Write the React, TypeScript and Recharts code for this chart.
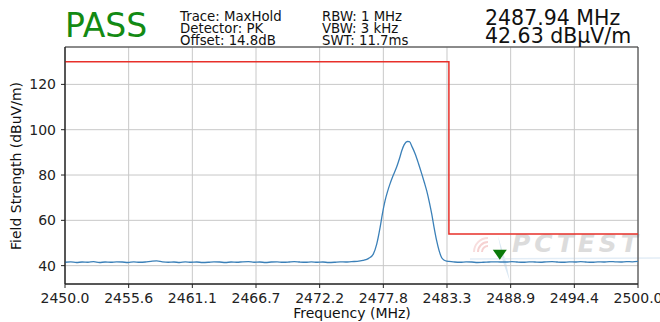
import React from "react";
import { LineChart, Line, XAxis, YAxis, CartesianGrid, ReferenceArea, ReferenceDot } from "recharts";

const leftFreqs = [
  2450.0, 2450.5, 2451.0, 2451.5, 2452.0, 2452.5, 2453.0, 2453.5, 2454.0, 2454.5,
  2455.0, 2455.5, 2456.0, 2456.5, 2457.0, 2457.5, 2458.0, 2458.5, 2459.0, 2459.5,
  2460.0, 2460.5, 2461.0, 2461.5, 2462.0, 2462.5, 2463.0, 2463.5, 2464.0, 2464.5,
  2465.0, 2465.5, 2466.0, 2466.5, 2467.0, 2467.5, 2468.0, 2468.5, 2469.0, 2469.5,
  2470.0, 2470.5, 2471.0, 2471.5, 2472.0, 2472.5, 2473.0, 2473.5, 2474.0, 2474.5,
  2475.0, 2475.5,
];
const leftLevels = [
  41.5, 41.7, 41.4, 41.6, 41.5, 41.8, 41.4, 41.6, 41.5, 41.7,
  41.6, 41.4, 41.7, 41.5, 41.6, 41.9, 42.1, 41.7, 41.5, 41.6,
  41.4, 41.7, 41.5, 41.6, 41.4, 41.5, 41.7, 41.6, 41.4, 41.6,
  41.5, 41.7, 41.8, 41.5, 41.6, 41.4, 41.6, 41.7, 41.5, 41.6,
  41.8, 41.6, 41.5, 41.7, 41.5, 41.6, 41.4, 41.5, 41.7, 41.6,
  41.8, 41.9,
];
const peakFreqs = [
  2476.0, 2476.5, 2476.9, 2477.2, 2477.5, 2477.7, 2477.93, 2478.15, 2478.36, 2478.65,
  2478.94, 2479.2, 2479.4, 2479.6, 2479.85, 2480.05, 2480.3, 2480.55, 2480.85, 2481.13,
  2481.35, 2481.56, 2481.8, 2482.0, 2482.2, 2482.43, 2482.65, 2482.87, 2483.1, 2483.3,
];
const peakLevels = [
  42.3, 43.2, 45.1, 49.5, 57.0, 63.0, 68.7, 72.8, 76.1, 80.0,
  83.5, 87.5, 90.9, 93.4, 94.8, 94.7, 92.3, 89.4, 85.0, 80.5,
  76.8, 73.1, 67.8, 62.8, 57.0, 51.0, 46.5, 43.5, 42.4, 42.0,
];
const rightFreqs = [
  2483.5, 2484.0, 2484.5, 2485.0, 2485.5, 2486.0, 2486.5, 2487.0, 2487.5, 2488.0,
  2488.5, 2489.0, 2489.5, 2490.0, 2490.5, 2491.0, 2491.5, 2492.0, 2492.5, 2493.0,
  2493.5, 2494.0, 2494.5, 2495.0, 2495.5, 2496.0, 2496.5, 2497.0, 2497.5, 2498.0,
  2498.5, 2499.0, 2499.5, 2500.0,
];
const rightLevels = [
  41.9, 41.6, 41.5, 41.7, 41.6, 41.4, 41.5, 41.6, 41.7, 41.6,
  41.6, 41.8, 41.6, 41.5, 41.7, 41.6, 41.5, 41.7, 41.8, 41.6,
  41.5, 41.7, 41.6, 41.8, 41.6, 41.5, 41.7, 41.6, 41.8, 41.7,
  41.6, 41.8, 41.7, 41.9,
];

const limitFreqs = [2450, 2483.5, 2483.5, 2500];
const limitLevels = [130, 130, 54, 54];

const xTicks = [2450.0, 2455.556, 2461.111, 2466.667, 2472.222, 2477.778, 2483.333, 2488.889, 2494.444, 2500.0];
const xTickLabels = ["2450.0", "2455.6", "2461.1", "2466.7", "2472.2", "2477.8", "2483.3", "2488.9", "2494.4", "2500.0"];
const yTicks = [40, 60, 80, 100, 120];

const markerFreq = 2487.94;
const markerLevel = 42.63;

const traceData = [
  ...leftFreqs.map((f, i) => ({ f, v: leftLevels[i] })),
  ...peakFreqs.map((f, i) => ({ f, v: peakLevels[i] })),
  ...rightFreqs.map((f, i) => ({ f, v: rightLevels[i] })),
];
const limitData = limitFreqs.map((f, i) => ({ f, v: limitLevels[i] }));

const FONT = "'DejaVu Sans', sans-serif";

const Triangle = (props: any) => {
  const { cx, cy } = props;
  return (
    <polygon
      points={`${cx - 7},${cy - 10} ${cx + 7},${cy - 10} ${cx},${cy}`}
      fill="#0a7a0a"
    />
  );
};

export default function App() {
  return (
    <div style={{ position: "absolute", left: 0, top: 0, width: 660, height: 322, background: "#fff", fontFamily: FONT, overflow: "hidden" }}>
      {/* watermark */}
      <svg width={660} height={322} style={{ position: "absolute", left: 0, top: 0 }}>
        <path d="M 478 252 A 10 10 0 0 1 488 242" fill="none" stroke="#f6d2d2" strokeWidth={2} />
        <path d="M 482 252 A 6 6 0 0 1 488 246" fill="none" stroke="#f6d2d2" strokeWidth={2} />
        <path d="M 474 252 A 14 14 0 0 1 488 238" fill="none" stroke="#f8dede" strokeWidth={2} />
        <path d="M 498 236 L 506 262 L 510 282 L 503 262 Z" fill="#dbe8f3" stroke="none" />
        <line x1={470} y1={259} x2={660} y2={258} stroke="#e3edf6" strokeWidth={1.5} />
      </svg>
      <div style={{ position: "absolute", left: 512, top: 230, fontSize: 25, fontWeight: "bold", fontStyle: "italic", color: "#dcdcdc", letterSpacing: 4, fontFamily: FONT, lineHeight: "28px" }}>
        PCTEST
      </div>
      <LineChart
        width={660}
        height={322}
        margin={{ top: 47, right: 22, bottom: 8, left: 25 }}
        style={{ position: "absolute", left: 0, top: 0 }}
      >
        <CartesianGrid stroke="#c8c8c8" strokeWidth={1} vertical horizontal />
        <XAxis
          dataKey="f"
          type="number"
          domain={[2450, 2500]}
          ticks={xTicks}
          height={30}
          tickFormatter={(v: number) => xTickLabels[xTicks.indexOf(v)] ?? v.toFixed(1)}
          allowDuplicatedCategory={false}
          tick={{ fill: "#222", fontSize: 14, fontFamily: FONT }}
          tickSize={4}
          tickMargin={5}
          stroke="#222"
          interval={0}
        />
        <YAxis
          type="number"
          domain={[31.9, 136.5]}
          ticks={yTicks}
          width={40}
          tick={{ fill: "#222", fontSize: 14, fontFamily: FONT }}
          tickSize={4}
          tickMargin={5}
          stroke="#222"
          allowDataOverflow
        />
        <ReferenceArea x1={2450} x2={2500} y1={31.9} y2={136.5} fill="none" stroke="#333" strokeWidth={1} ifOverflow="visible" />
        <Line data={limitData} dataKey="v" type="linear" stroke="#e8302a" strokeWidth={1.5} dot={false} isAnimationActive={false} />
        <Line data={traceData} dataKey="v" type="monotone" stroke="#3b80b8" strokeWidth={1.3} dot={false} isAnimationActive={false} />
        <ReferenceDot x={markerFreq} y={markerLevel} shape={Triangle} ifOverflow="visible" />
      </LineChart>

      {/* header */}
      <div style={{ position: "absolute", left: 65, top: 6, fontSize: 33, color: "#138a13", lineHeight: "40px" }}>PASS</div>
      <div style={{ position: "absolute", left: 180, top: 11, fontSize: 13.3, color: "#111", lineHeight: "12px", whiteSpace: "pre" }}>
        {"Trace: MaxHold\nDetector: PK\nOffset: 14.8dB"}
      </div>
      <div style={{ position: "absolute", left: 322, top: 11, fontSize: 13.3, color: "#111", lineHeight: "12px", whiteSpace: "pre" }}>
        {"RBW: 1 MHz\nVBW: 3 kHz\nSWT: 11.7ms"}
      </div>
      <div style={{ position: "absolute", left: 485, top: 9, fontSize: 20.5, color: "#111", lineHeight: "18px", whiteSpace: "pre" }}>
        {"2487.94 MHz\n42.63 dBμV/m"}
      </div>

      {/* axis labels */}
      <div style={{ position: "absolute", left: 352, top: 305, transform: "translateX(-50%)", fontSize: 14, color: "#111", whiteSpace: "nowrap", lineHeight: "16px" }}>
        Frequency (MHz)
      </div>
      <div style={{ position: "absolute", left: 16, top: 166, transform: "translate(-50%, -50%) rotate(-90deg)", fontSize: 14, color: "#111", whiteSpace: "nowrap", lineHeight: "16px" }}>
        Field Strength (dBuV/m)
      </div>
    </div>
  );
}
